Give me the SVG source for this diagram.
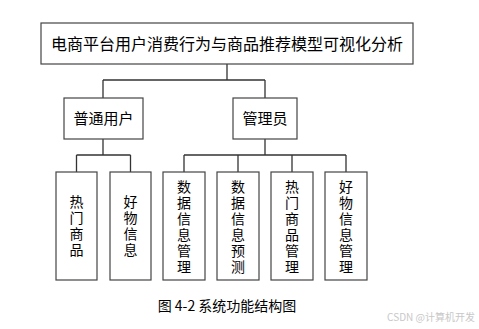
<svg xmlns="http://www.w3.org/2000/svg" width="479" height="329" viewBox="0 0 479 329">
<style>
.box{fill:#fff;stroke:#444;stroke-width:1.2}
.t{font-family:"Noto Sans CJK SC","Liberation Sans",sans-serif;font-size:15px;fill:#000;text-anchor:middle}
.v{font-family:"Noto Sans CJK SC","Liberation Sans",sans-serif;font-size:14px;fill:#000;text-anchor:middle}
.c{fill:none;stroke:#333;stroke-width:1.3}
</style>
<rect width="479" height="329" fill="#fff"/>
<g id="connectors">
<path class="c" d="M227 64V80M103 80H265M103 80V98M265 80V98"/>
<path class="c" d="M103 139V155M76.5 155H130.5M76.5 155V172M130.5 155V172"/>
<path class="c" d="M265 139V155M184 155H346M184 155V172M238 155V172M292 155V172M346 155V172"/>
</g>
<g id="root"><rect class="box" x="41" y="23" width="372" height="41"/><text class="t" x="227" y="49.5" style="font-size:16px">电商平台用户消费行为与商品推荐模型可视化分析</text></g>
<g id="user"><rect class="box" x="64" y="98" width="79" height="41"/><text class="t" x="103.5" y="124">普通用户</text></g>
<g id="admin"><rect class="box" x="233" y="98" width="64" height="41"/><text class="t" x="265" y="124">管理员</text></g>
<g id="n1"><rect class="box" x="56" y="172" width="41" height="108"/>
<text class="v" x="76.5" y="207">热</text><text class="v" x="76.5" y="223">门</text><text class="v" x="76.5" y="239">商</text><text class="v" x="76.5" y="255">品</text></g>
<g id="n2"><rect class="box" x="110" y="172" width="41" height="108"/>
<text class="v" x="130.5" y="207">好</text><text class="v" x="130.5" y="223">物</text><text class="v" x="130.5" y="239">信</text><text class="v" x="130.5" y="255">息</text></g>
<g id="n3"><rect class="box" x="163" y="172" width="42" height="108"/>
<text class="v" x="184" y="192">数</text><text class="v" x="184" y="208">据</text><text class="v" x="184" y="224">信</text><text class="v" x="184" y="240">息</text><text class="v" x="184" y="256">管</text><text class="v" x="184" y="272">理</text></g>
<g id="n4"><rect class="box" x="217" y="172" width="42" height="108"/>
<text class="v" x="238" y="192">数</text><text class="v" x="238" y="208">据</text><text class="v" x="238" y="224">信</text><text class="v" x="238" y="240">息</text><text class="v" x="238" y="256">预</text><text class="v" x="238" y="272">测</text></g>
<g id="n5"><rect class="box" x="271" y="172" width="42" height="108"/>
<text class="v" x="292" y="192">热</text><text class="v" x="292" y="208">门</text><text class="v" x="292" y="224">商</text><text class="v" x="292" y="240">品</text><text class="v" x="292" y="256">管</text><text class="v" x="292" y="272">理</text></g>
<g id="n6"><rect class="box" x="325" y="172" width="42" height="108"/>
<text class="v" x="346" y="192">好</text><text class="v" x="346" y="208">物</text><text class="v" x="346" y="224">信</text><text class="v" x="346" y="240">息</text><text class="v" x="346" y="256">管</text><text class="v" x="346" y="272">理</text></g>
<text class="t" x="227" y="311" style="font-size:14px">图 4-2 系统功能结构图</text>
<text x="475" y="321" style="font-family:'Noto Sans CJK SC','Liberation Sans',sans-serif;font-size:10px;fill:#c8c8c8;text-anchor:end">CSDN @计算机开发</text>
</svg>
